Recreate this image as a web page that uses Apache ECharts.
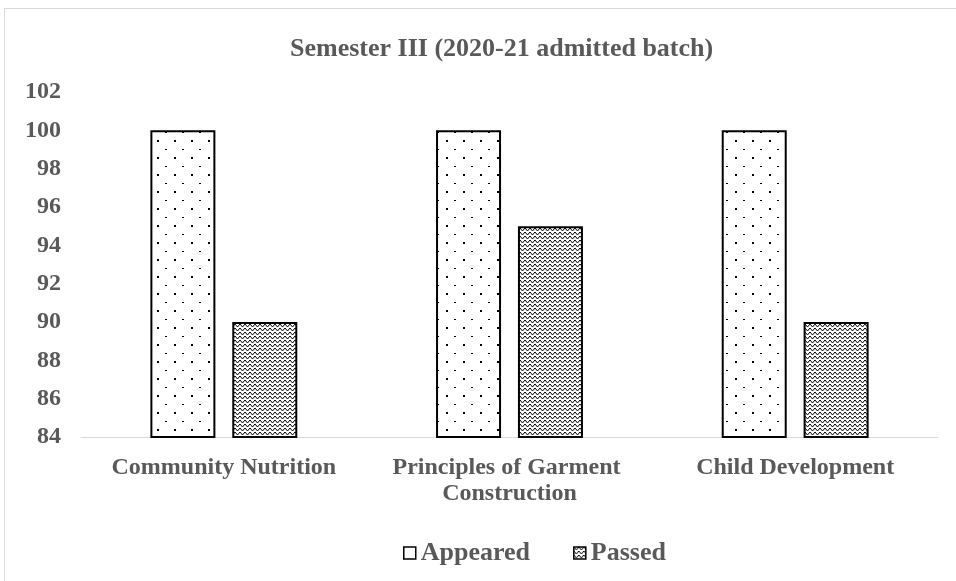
<!DOCTYPE html>
<html>
<head>
<meta charset="utf-8">
<script src="https://cdn.jsdelivr.net/npm/echarts@6/dist/echarts.min.js"></script>
<style>
  html, body { margin: 0; padding: 0; background: #fff; }
  #frame { position: absolute; left: 4px; top: 8px; width: 1040px; height: 600px; border: 1px solid #d9d9d9; box-sizing: border-box; }
  #main { position: absolute; left: 0; top: 0; width: 956px; height: 581px; }
</style>
</head>
<body>
<div id="frame"></div>
<div id="main"></div>
<script>
// data
const categories = ['Community Nutrition', 'Principles of Garment Construction', 'Child Development'];
const appeared = [100, 100, 100];
const passed = [90, 95, 90];
const yTicks = [84, 102, 2]; // min, max, step

// fill patterns
function dotPattern() {
  const c = document.createElement('canvas');
  c.width = 17; c.height = 17;
  const g = c.getContext('2d');
  g.fillStyle = '#fff';
  g.fillRect(0, 0, 17, 17);
  g.fillStyle = '#000';
  g.fillRect(4, 4, 2, 2);
  g.fillRect(12, 13, 2, 1);
  return c;
}
function weavePattern() {
  const c = document.createElement('canvas');
  c.width = 10; c.height = 8;
  const g = c.getContext('2d');
  g.fillStyle = '#fff';
  g.fillRect(0, 0, 10, 8);
  g.strokeStyle = '#000';
  g.lineWidth = 1;
  // chevron rows
  for (let row = -1; row < 3; row++) {
    const y = row * 4;
    g.beginPath();
    g.moveTo(0, y);
    g.lineTo(2.5, y + 3);
    g.lineTo(5, y);
    g.lineTo(7.5, y + 3);
    g.lineTo(10, y);
    g.stroke();
  }
  return c;
}

const dots = dotPattern();
const weave = weavePattern();

const chart = echarts.init(document.getElementById('main'));
const font = '"Liberation Serif", "Times New Roman", serif';

chart.setOption({
  animation: false,
  backgroundColor: 'transparent',
  title: {
    text: 'Semester III (2020-21 admitted batch)',
    left: 285,
    top: 31,
    textStyle: { fontFamily: font, fontSize: 26, fontWeight: 'bold', color: '#595959' }
  },
  legend: {
    bottom: 10,
    left: 398,
    itemWidth: 12,
    itemHeight: 12,
    itemGap: 43,
    icon: 'rect',
    textStyle: { fontFamily: font, fontSize: 26, fontWeight: 'bold', color: '#595959', padding: [0, 0, 0, 0] },
    data: [
      { name: 'Appeared', itemStyle: { color: '#fff', borderColor: '#000', borderWidth: 1.5 } },
      { name: 'Passed', itemStyle: { borderColor: '#000', borderWidth: 1.5 } }
    ]
  },
  grid: { left: 81, right: 18, top: 92, bottom: 144 },
  xAxis: {
    type: 'category',
    data: categories,
    axisLine: { lineStyle: { color: '#d9d9d9', width: 1 } },
    axisTick: { show: false },
    axisLabel: {
      fontFamily: font, fontSize: 24, fontWeight: 'bold', color: '#595959',
      margin: 18, width: 270, overflow: 'break', lineHeight: 26, interval: 0
    }
  },
  yAxis: {
    type: 'value',
    min: yTicks[0],
    max: yTicks[1],
    interval: yTicks[2],
    axisLine: { show: false },
    axisTick: { show: false },
    splitLine: { show: false },
    axisLabel: { fontFamily: font, fontSize: 24, fontWeight: 'bold', color: '#595959', margin: 20 }
  },
  series: [
    {
      name: 'Appeared',
      type: 'bar',
      data: appeared,
      barWidth: 65,
      barGap: '26%',
      itemStyle: { color: { image: dots, repeat: 'repeat' }, borderColor: '#000', borderWidth: 2 }
    },
    {
      name: 'Passed',
      type: 'bar',
      data: passed,
      barWidth: 65,
      itemStyle: { color: { image: weave, repeat: 'repeat' }, borderColor: '#000', borderWidth: 2 }
    }
  ]
});
</script>
</body>
</html>
